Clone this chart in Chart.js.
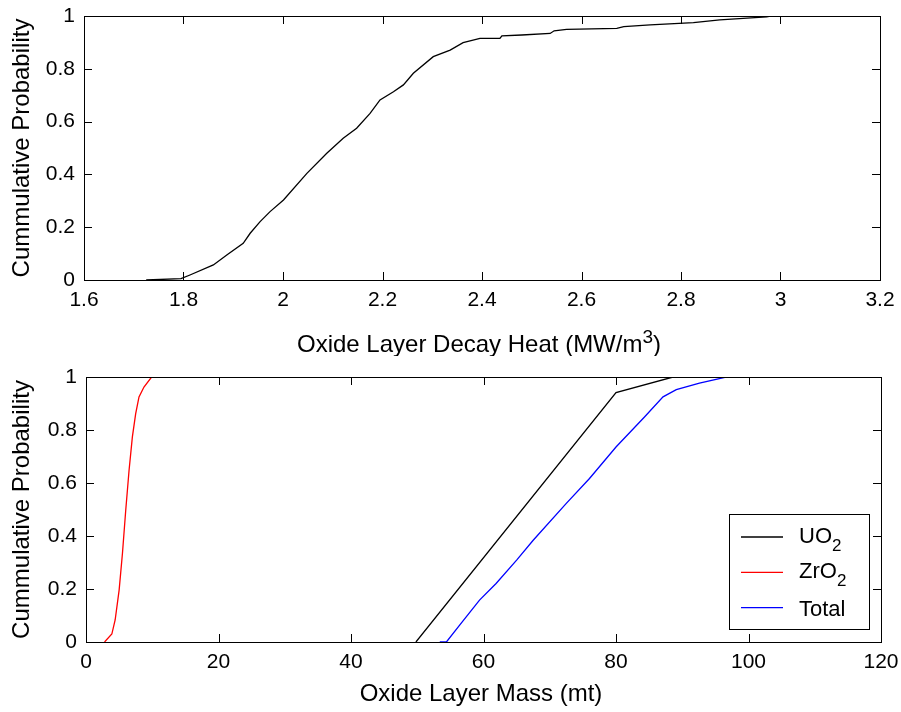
<!DOCTYPE html>
<html>
<head>
<meta charset="utf-8">
<script src="https://cdn.jsdelivr.net/npm/chart.js@4.4.1/dist/chart.umd.min.js"></script>
<style>
    html, body { margin: 0; padding: 0; background: #fff; }
    #wrap { position: relative; width: 901px; height: 712px; }
    canvas { position: absolute; left: 0; }
    #heatChart { top: 0; }
    #massChart { top: 356px; }
</style>
</head>
<body>
<div id="wrap">
    <canvas id="heatChart" width="901" height="356"></canvas>
    <canvas id="massChart" width="901" height="356"></canvas>
</div>
<script>
// top panel: decay heat CDF
const heatX = [1.725, 1.795, 1.813, 1.86, 1.887, 1.92, 1.934, 1.954, 1.974, 2.001, 2.048, 2.088, 2.121, 2.148, 2.175,
    2.195, 2.222, 2.242, 2.262, 2.302, 2.336, 2.362, 2.396, 2.436, 2.44, 2.48, 2.537, 2.545, 2.57, 2.671, 2.685,
    2.738, 2.825, 2.878, 2.925, 2.972, 2.98];
const heatP = [0, 0.005, 0.019, 0.057, 0.095, 0.139, 0.177, 0.221, 0.259, 0.303, 0.404, 0.48, 0.537, 0.575, 0.631,
    0.682, 0.713, 0.739, 0.783, 0.846, 0.871, 0.899, 0.915, 0.915, 0.925, 0.928, 0.934, 0.944, 0.949, 0.953, 0.96,
    0.966, 0.975, 0.985, 0.991, 0.997, 1.0];

// bottom panel: oxide mass CDFs
const uo2X = [49.8, 80.0, 88.6];
const uo2P = [0, 0.941, 1.0];
const zro2X = [2.8, 3.9, 4.4, 5.0, 5.5, 6.0, 6.5, 7.0, 7.5, 8.0, 8.75, 9.9, 10.9];
const zro2P = [0, 0.03, 0.083, 0.196, 0.334, 0.498, 0.648, 0.774, 0.862, 0.925, 0.962, 1.0, 1.0];
const totalX = [53.4, 54.4, 56.4, 59.4, 61.9, 65.0, 67.5, 72.5, 76.0, 80.0, 84.3, 87.1, 89.1, 92.6, 95.6, 96.6, 99.9];
const totalP = [0, 0, 0.064, 0.158, 0.221, 0.309, 0.384, 0.523, 0.617, 0.736, 0.849, 0.925, 0.952, 0.977, 0.994, 1.0, 1.0];

const seriesNames = ["UO_2", "ZrO_2", "Total"];
const seriesColors = ["#000000", "#ff0000", "#0000ff"];

const heatAxis = { min: 1.6, max: 3.2, step: 0.2 };
const massAxis = { min: 0, max: 120, step: 20 };
const probAxis = { min: 0, max: 1, step: 0.2 };

const yTitle = "Cummulative Probability";
const heatTitle = "Oxide Layer Decay Heat (MW/m^3)";
const massTitle = "Oxide Layer Mass (mt)";

const FONT = "'Liberation Sans', Arial, sans-serif";

function toPoints(xs, ys) {
    return xs.map(function (x, i) {
        return { x: x, y: ys[i] };
    });
}

// "_2" -> subscript, "^3" -> superscript
function richParts(str) {
    const parts = [];
    str.split(/([_^]\d)/).forEach(function (s) {
        if (!s) return;
        if (s[0] === "_") parts.push({ t: s.slice(1), shift: 1 });
        else if (s[0] === "^") parts.push({ t: s.slice(1), shift: -1 });
        else parts.push({ t: s, shift: 0 });
    });
    return parts;
}

function drawRich(ctx, str, x, y, size, align) {
    const parts = richParts(str);
    const small = Math.round(size * 0.78);
    let total = 0;
    parts.forEach(function (p) {
        ctx.font = (p.shift ? small : size) + "px " + FONT;
        p.w = ctx.measureText(p.t).width;
        total += p.w;
    });
    let cx = align === "center" ? x - total / 2 : x;
    ctx.textAlign = "left";
    ctx.textBaseline = "alphabetic";
    ctx.fillStyle = "#000";
    parts.forEach(function (p) {
        ctx.font = (p.shift ? small : size) + "px " + FONT;
        let dy = 0;
        if (p.shift === 1) dy = size * 0.36;
        if (p.shift === -1) dy = -size * 0.36;
        ctx.fillText(p.t, cx, y + dy);
        cx += p.w;
    });
}

// matlab style box, inward ticks, x title and legend
const framePlugin = {
    id: "frame",
    afterDatasetsDraw(chart, args, opts) {
        const ctx = chart.ctx;
        const a = chart.chartArea;
        const tl = 8;
        ctx.save();
        ctx.strokeStyle = "#000";
        ctx.lineWidth = 1;
        ctx.strokeRect(a.left + 0.5, a.top + 0.5, a.right - a.left, a.bottom - a.top);
        ctx.beginPath();
        chart.scales.x.ticks.forEach(function (t) {
            const px = Math.round(chart.scales.x.getPixelForValue(t.value)) + 0.5;
            ctx.moveTo(px, a.bottom);
            ctx.lineTo(px, a.bottom - tl);
            ctx.moveTo(px, a.top);
            ctx.lineTo(px, a.top + tl);
        });
        chart.scales.y.ticks.forEach(function (t) {
            const py = Math.round(chart.scales.y.getPixelForValue(t.value)) + 0.5;
            ctx.moveTo(a.left, py);
            ctx.lineTo(a.left + tl, py);
            ctx.moveTo(a.right, py);
            ctx.lineTo(a.right - tl, py);
        });
        ctx.stroke();
        ctx.restore();
    },
    afterDraw(chart, args, opts) {
        const ctx = chart.ctx;
        ctx.save();
        if (opts.xTitle) {
            drawRich(ctx, opts.xTitle, opts.xTitleX, opts.xTitleY, 24, "center");
        }
        if (opts.legend) {
            const lg = opts.legend;
            ctx.fillStyle = "#fff";
            ctx.fillRect(lg.x, lg.y, lg.w, lg.h);
            ctx.strokeStyle = "#000";
            ctx.lineWidth = 1;
            ctx.strokeRect(lg.x + 0.5, lg.y + 0.5, lg.w, lg.h);
            chart.data.datasets.forEach(function (ds, i) {
                const ly = lg.y + lg.first + i * lg.gap;
                ctx.strokeStyle = ds.borderColor;
                ctx.lineWidth = 1.3;
                ctx.beginPath();
                ctx.moveTo(lg.x + 12, ly);
                ctx.lineTo(lg.x + 54, ly);
                ctx.stroke();
                const hasSub = ds.label.indexOf("_") >= 0;
                drawRich(ctx, ds.label, lg.x + 70, ly + (hasSub ? 6 : 8), 22, "left");
            });
        }
        ctx.restore();
    },
};

function tickLabel(v) {
    return String(Math.round(v * 100) / 100);
}

function makeOptions(o) {
    return {
        responsive: false,
        animation: false,
        layout: { padding: o.padding },
        plugins: {
            legend: { display: false },
            tooltip: { enabled: false },
            frame: o.frame,
        },
        scales: {
            x: {
                type: "linear",
                min: o.xAxis.min,
                max: o.xAxis.max,
                ticks: {
                    stepSize: o.xAxis.step,
                    padding: 8,
                    maxRotation: 0,
                    autoSkip: false,
                    color: "#000",
                    font: { family: FONT, size: 21 },
                    callback: tickLabel,
                },
                grid: { display: false, drawTicks: false },
                border: { display: false },
                afterFit: function (s) {
                    s.height = o.xHeight;
                    s.paddingLeft = 0;
                    s.paddingRight = 0;
                },
            },
            y: {
                type: "linear",
                min: probAxis.min,
                max: probAxis.max,
                ticks: {
                    stepSize: probAxis.step,
                    padding: 9,
                    color: "#000",
                    font: { family: FONT, size: 21 },
                    callback: tickLabel,
                },
                title: {
                    display: true,
                    text: yTitle,
                    color: "#000",
                    font: { family: FONT, size: 24 },
                    padding: { top: 8, bottom: 0 },
                },
                grid: { display: false, drawTicks: false },
                border: { display: false },
                afterFit: function (s) {
                    s.width = o.yWidth;
                    s.paddingTop = 0;
                    s.paddingBottom = 0;
                },
            },
        },
    };
}

function lineSet(label, color, xs, ys) {
    return {
        label: label,
        data: toPoints(xs, ys),
        showLine: true,
        borderColor: color,
        backgroundColor: color,
        borderWidth: 1.3,
        pointRadius: 0,
        tension: 0,
    };
}

new Chart(document.getElementById("heatChart"), {
    type: "scatter",
    data: { datasets: [lineSet("Decay heat", "#000000", heatX, heatP)] },
    options: makeOptions({
        padding: { top: 16, right: 21, left: 0, bottom: 0 },
        xAxis: heatAxis,
        xHeight: 76,
        yWidth: 84,
        frame: { xTitle: heatTitle, xTitleX: 479, xTitleY: 352 },
    }),
    plugins: [framePlugin],
});

new Chart(document.getElementById("massChart"), {
    type: "scatter",
    data: {
        datasets: [
            lineSet(seriesNames[0], seriesColors[0], uo2X, uo2P),
            lineSet(seriesNames[1], seriesColors[1], zro2X, zro2P),
            lineSet(seriesNames[2], seriesColors[2], totalX, totalP),
        ],
    },
    options: makeOptions({
        padding: { top: 21, right: 20, left: 0, bottom: 0 },
        xAxis: massAxis,
        xHeight: 70,
        yWidth: 86,
        frame: {
            xTitle: massTitle,
            xTitleX: 481,
            xTitleY: 345,
            legend: { x: 729, y: 158, w: 140, h: 115, first: 23, gap: 35.3 },
        },
    }),
    plugins: [framePlugin],
});
</script>
</body>
</html>
